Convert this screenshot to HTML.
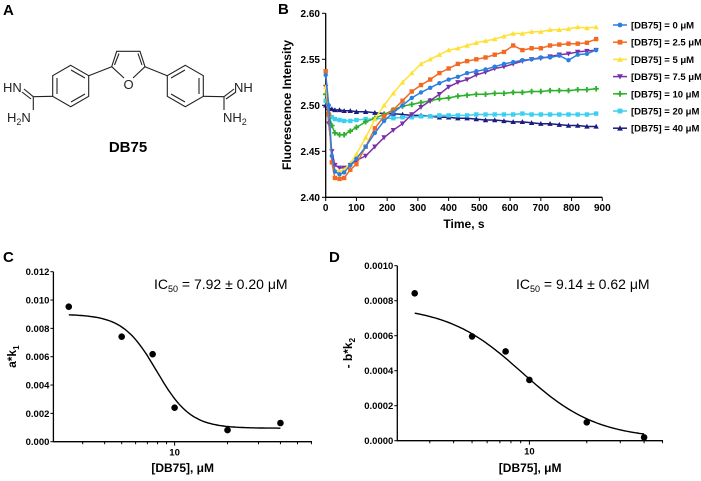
<!DOCTYPE html>
<html><head><meta charset="utf-8"><style>
body{margin:0;background:#fff;}
svg{display:block;font-family:"Liberation Sans",Arial,sans-serif;}
.tk{font-size:10px;font-weight:bold;}
</style></head><body>
<svg id="fig" width="701" height="481" viewBox="0 0 701 481">
<g stroke="#222" stroke-width="1.1" fill="none">
<text x="3" y="15" font-size="15" font-weight="bold" fill="#000" stroke="none">A</text>
<g>
<polygon points="70.7,65.3 88.7,75.7 88.7,96.3 70.7,106.7 52.7,96.3 52.7,75.7"/>
<line x1="71" y1="70" x2="85" y2="78"/><line x1="85" y1="94" x2="71" y2="102"/><line x1="57" y1="78" x2="57" y2="94"/>
<polygon points="185.3,65.3 203.3,75.7 203.3,96.3 185.3,106.7 167.3,96.3 167.3,75.7"/>
<line x1="185" y1="70" x2="171" y2="78"/><line x1="171" y1="94" x2="185" y2="102"/><line x1="199" y1="78" x2="199" y2="94"/>
<line x1="88.7" y1="75.7" x2="111.7" y2="66.7"/>
<polyline points="111.7,66.7 116.7,51.3 140,51.3 145,66.7"/>
<line x1="114.5" y1="65" x2="119" y2="53.5"/><line x1="142" y1="65" x2="138" y2="53.5"/>
<line x1="111.7" y1="66.7" x2="124" y2="78"/><line x1="145" y1="66.7" x2="133" y2="78"/>
<line x1="167.3" y1="75.7" x2="145" y2="66.7"/>
<line x1="52.7" y1="96.3" x2="33.3" y2="96.7"/>
<line x1="33.3" y1="96.7" x2="24" y2="89"/><line x1="31" y1="99" x2="22" y2="92"/>
<line x1="33.3" y1="96.7" x2="33.3" y2="110"/>
<line x1="203.3" y1="96.3" x2="224" y2="96.7"/>
<line x1="224" y1="96.7" x2="234" y2="89"/><line x1="226" y1="99" x2="236" y2="92"/>
<line x1="224" y1="96.7" x2="224" y2="110"/>
</g>
<g stroke="none" fill="#222" font-size="13">
<text x="128.5" y="89" text-anchor="middle">O</text>
<text x="3" y="92">HN</text>
<text x="7" y="122">H<tspan font-size="9" dy="3">2</tspan><tspan dy="-3">N</tspan></text>
<text x="234" y="92">NH</text>
<text x="223" y="122">NH<tspan font-size="9" dy="3">2</tspan></text>
<text x="128" y="152" text-anchor="middle" font-size="15" font-weight="bold" fill="#000">DB75</text>
</g>
</g>
<text x="278" y="14" font-size="15" font-weight="bold">B</text>
<text x="3" y="262" font-size="15" font-weight="bold">C</text>
<text x="329" y="262" font-size="15" font-weight="bold">D</text>
<g id="pb"></g>
<g id="pc"></g>
<g id="pd"></g>
</svg>
<script>
const times=[0,10,20,30,45,60,80,100,130,160,190,220,250,280,310,340,370,400,430,460,490,520,550,580,610,640,670,700,730,760,790,820,850,880];
const seriesLabels=["[DB75] = 0 \u03bcM","[DB75] = 2.5 \u03bcM","[DB75] = 5 \u03bcM","[DB75] = 7.5 \u03bcM","[DB75] = 10 \u03bcM","[DB75] = 20 \u03bcM","[DB75] = 40 \u03bcM"];
const s0=[2.533,2.50,2.445,2.428,2.425,2.427,2.435,2.442,2.455,2.470,2.483,2.492,2.500,2.508,2.514,2.519,2.524,2.528,2.531,2.535,2.537,2.539,2.542,2.545,2.547,2.549,2.550,2.552,2.552,2.554,2.549,2.555,2.556,2.560];
const s25=[2.537,2.49,2.438,2.421,2.420,2.421,2.430,2.436,2.455,2.475,2.488,2.495,2.505,2.515,2.522,2.528,2.535,2.540,2.545,2.548,2.550,2.552,2.555,2.558,2.565,2.560,2.562,2.562,2.565,2.566,2.567,2.567,2.568,2.572];
const s5=[2.52,2.49,2.44,2.43,2.428,2.43,2.437,2.447,2.465,2.485,2.50,2.513,2.525,2.535,2.545,2.550,2.555,2.560,2.562,2.565,2.568,2.570,2.572,2.575,2.578,2.578,2.580,2.580,2.582,2.582,2.583,2.585,2.584,2.585];
const s75=[2.52,2.48,2.45,2.435,2.432,2.432,2.435,2.440,2.445,2.455,2.465,2.473,2.480,2.490,2.498,2.505,2.512,2.520,2.525,2.528,2.533,2.536,2.540,2.542,2.545,2.548,2.550,2.551,2.553,2.555,2.556,2.558,2.559,2.560];
const s10=[2.512,2.490,2.478,2.470,2.468,2.468,2.472,2.476,2.482,2.486,2.490,2.495,2.499,2.501,2.503,2.505,2.507,2.508,2.510,2.511,2.512,2.512,2.513,2.513,2.514,2.514,2.515,2.515,2.516,2.516,2.516,2.517,2.517,2.518];
const s20=[2.505,2.49,2.487,2.485,2.484,2.483,2.483,2.484,2.485,2.485,2.486,2.486,2.487,2.487,2.488,2.488,2.489,2.489,2.489,2.489,2.490,2.490,2.490,2.490,2.490,2.491,2.490,2.490,2.490,2.490,2.490,2.490,2.490,2.491];
const s40=[2.500,2.497,2.496,2.495,2.495,2.494,2.494,2.493,2.493,2.492,2.491,2.491,2.490,2.489,2.489,2.488,2.487,2.487,2.486,2.486,2.485,2.484,2.484,2.483,2.482,2.482,2.481,2.480,2.480,2.479,2.478,2.478,2.477,2.477];
const bXTicks=[0,100,200,300,400,500,600,700,800,900];
const bYTicks=[2.40,2.45,2.50,2.55,2.60];
const conc=[2.5,5,7.5,10,20,40];
const cVals=[0.00953,0.00741,0.00618,0.0024,0.00082,0.00132];
const cYTicks=[0,0.002,0.004,0.006,0.008,0.010,0.012];
const cFit=[0.0090,0.00095,7.92,4.5]; // top,bottom,IC50,hill
const dVals=[0.000842,0.000596,0.000510,0.000347,0.000105,0.000019];
const dYTicks=[0,0.0002,0.0004,0.0006,0.0008,0.0010];
const dFit=[0.00077,0.00001,9.14,2.2];

const NS="http://www.w3.org/2000/svg";
function mk(p,t,a){const e=document.createElementNS(NS,t);for(const k in a)e.setAttribute(k,a[k]);p.appendChild(e);return e;}

(function(){
const g=document.getElementById('pb');
const X=t=>325.7+t*(602.3-325.7)/900, Y=v=>197.3-(v-2.40)*920;
const ax=mk(g,'path',{d:`M325.7,13.3V197.3H602.3`,stroke:'#000','stroke-width':1.3,fill:'none'});

bXTicks.forEach(t=>{mk(g,'line',{x1:X(t),x2:X(t),y1:197.3,y2:201,stroke:'#000'});
const tx=mk(g,'text',{x:X(t),y:211,'text-anchor':'middle',class:'tk'});tx.textContent=t;
});
bYTicks.forEach(v=>{mk(g,'line',{x1:322,x2:325.7,y1:Y(v),y2:Y(v),stroke:'#000'});
const tx=mk(g,'text',{x:320,y:Y(v)+3.5,'text-anchor':'end',class:'tk'});tx.textContent=v.toFixed(2);
});
const xt=mk(g,'text',{x:464,y:228,'text-anchor':'middle','font-size':12,'font-weight':'bold'});xt.textContent='Time, s';

const yt=mk(g,'text',{x:0,y:0,transform:'translate(291,105) rotate(-90)','text-anchor':'middle','font-size':12,'font-weight':'bold'});yt.textContent='Fluorescence Intensity';

const all=[s0,s25,s5,s75,s10,s20,s40];
const cols=['#2a7fe0','#f26a22','#ffe135','#7a2fa8','#2cb02c','#3cd0f0','#1c1c80'];
const shp=['circle','square','tri','tridown','plus','square','tri'];
function marker(p,x,y,s,c,r){
 if(s==='circle')return mk(p,'circle',{cx:x,cy:y,r:r,fill:c});
 if(s==='square')return mk(p,'rect',{x:x-r,y:y-r,width:2*r,height:2*r,fill:c});
 if(s==='tri')return mk(p,'polygon',{points:`${x},${y-r-0.5} ${x+r+0.5},${y+r} ${x-r-0.5},${y+r}`,fill:c});
 if(s==='tridown')return mk(p,'polygon',{points:`${x},${y+r+0.5} ${x+r+0.5},${y-r} ${x-r-0.5},${y-r}`,fill:c});
 return mk(p,'path',{d:`M${x-r-0.5},${y}H${x+r+0.5}M${x},${y-r-0.5}V${y+r+0.5}`,stroke:c,'stroke-width':1.8});
}
for(let i=all.length-1;i>=0;i--){
 const sg=mk(g,'g',{});
 const pts=all[i].map((v,j)=>X(times[j]).toFixed(1)+','+Y(v).toFixed(1)).join(' ');
 const ln=mk(sg,'polyline',{points:pts,fill:'none',stroke:cols[i],'stroke-width':1.5});
 
 all[i].forEach((v,j)=>{const m=marker(sg,X(times[j]),Y(v),shp[i],cols[i],2.2);
 });
}
const lg=mk(g,'g',{});
seriesLabels.forEach((l,i)=>{const y=25+i*17.2;
 const e=mk(lg,'g',{});
 mk(e,'line',{x1:613,x2:627,y1:y,y2:y,stroke:cols[i],'stroke-width':1.5});
 marker(e,620,y,shp[i],cols[i],2.4);
 const t=mk(e,'text',{x:631,y:y+3.5,'font-size':9.5,'font-weight':'bold'});t.textContent=l;});
})();

function dose(id,ax0,ax1,x10,dec,yTop,yBot,ymax,ticks,vals,fit,dp,ylab,ic,labX){
 const g=document.getElementById(id);
 const X=c=>x10+(Math.log10(c)-1)*dec, Y=v=>yBot-(v/ymax)*(yBot-yTop);
 const a=mk(g,'path',{d:`M${ax0},${yTop}V${yBot}H${ax1}`,stroke:'#000','stroke-width':1.3,fill:'none'});
 
 ticks.forEach(v=>{mk(g,'line',{x1:ax0-3,x2:ax0,y1:Y(v),y2:Y(v),stroke:'#000'});
  const t=mk(g,'text',{x:ax0-4,y:Y(v)+3.5,'text-anchor':'end','font-size':9.5,'font-weight':'bold'});t.textContent=v.toFixed(dp);
  });
 [3,4,5,6,7,8,9,10,20,30,40,50,60].forEach(c=>{const x=X(c);if(x<ax0||x>ax1)return;
  mk(g,'line',{x1:x,x2:x,y1:yBot,y2:yBot+(c===10?4:2.5),stroke:'#000'});});
 const t10=mk(g,'text',{x:X(10),y:yBot+14,'text-anchor':'middle','font-size':9.5,'font-weight':'bold'});t10.textContent='10';
 
 let d='';for(let k=0;k<=100;k++){const c=Math.pow(10,Math.log10(2.5)+k/100*(Math.log10(40)-Math.log10(2.5)));
  const v=fit[1]+(fit[0]-fit[1])/(1+Math.pow(c/fit[2],fit[3]));d+=(k?'L':'M')+X(c).toFixed(1)+','+Y(v).toFixed(1);}
 const cv=mk(g,'path',{d:d,stroke:'#000','stroke-width':1.4,fill:'none'});
 
 vals.forEach((v,i)=>{const p=mk(g,'circle',{cx:X(conc[i]),cy:Y(v),r:3.3,fill:'#000'});
  });
 const xt=mk(g,'text',{x:(ax0+ax1)/2,y:472,'text-anchor':'middle','font-size':12,'font-weight':'bold'});xt.textContent='[DB75], \u03bcM';
 
 const yt=mk(g,'text',{x:0,y:0,transform:`translate(${labX},${(yTop+yBot)/2}) rotate(-90)`,'text-anchor':'middle','font-size':12,'font-weight':'bold'});
 yt.innerHTML=ylab;
 const it=mk(g,'text',{x:ic,y:289,'font-size':14});
 it.innerHTML=`IC<tspan font-size="9" dy="3">50</tspan><tspan dy="-3"> = ${id==='pc'?'7.92 \u00b1 0.20':'9.14 \u00b1 0.62'} \u03bcM</tspan>`;
 
}
dose('pc',53.4,312,174.6,175.8,271.7,441.7,0.012,cYTicks,cVals,cFit,3,'a*k<tspan font-size="8" dy="3">1</tspan>',154,16);
dose('pd',397.3,663,529.4,190.5,265.7,440.7,0.001,dYTicks,dVals,dFit,4,'- b*k<tspan font-size="8" dy="3">2</tspan>',516,352);
</script>
</body></html>
